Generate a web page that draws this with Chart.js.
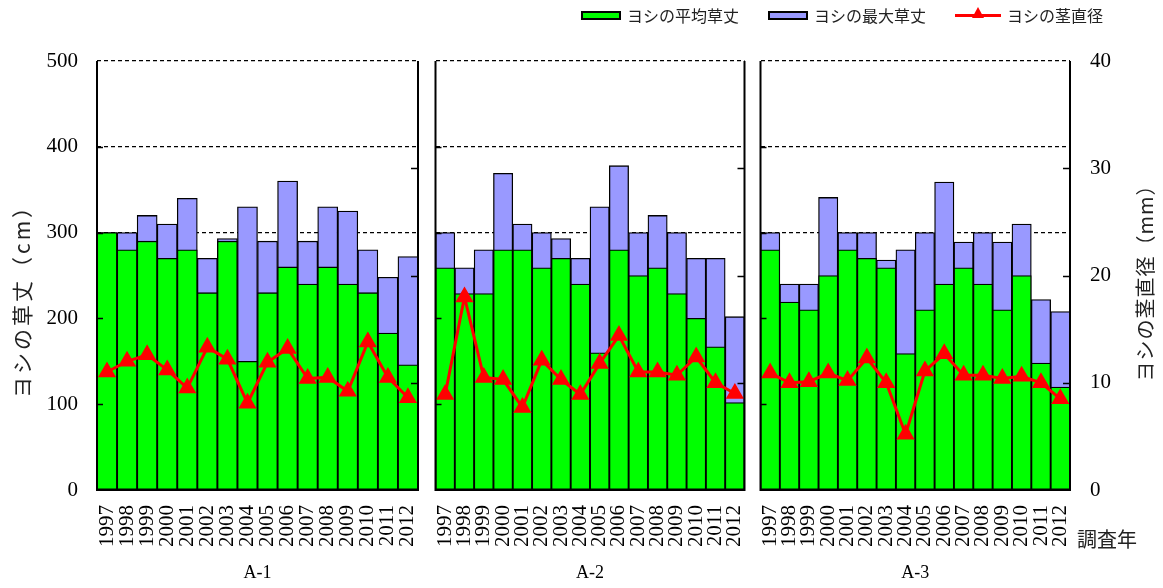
<!DOCTYPE html>
<html>
<head>
<meta charset="utf-8">
<script src="https://cdn.jsdelivr.net/npm/chart.js@4.4.0/dist/chart.umd.min.js"></script>
<style>
  html, body { margin: 0; padding: 0; background: #fff; }
  body { width: 1163px; height: 588px; position: relative; overflow: hidden; }
  canvas { position: absolute; top: 0; }
  .lg { position: absolute; top: 5px; height: 20px; display: flex; align-items: center;
        font-family: "Noto Sans CJK JP", sans-serif; font-size: 16px; color: #222; white-space: nowrap; }
  .sw { display: inline-block; width: 36px; height: 5px; border: 2px solid #000; margin-right: 6px; }
  .ln { position: relative; display: inline-block; width: 46px; height: 3px; background: #ff0000; margin-right: 6px; }
  .ln::after { content: ""; position: absolute; left: 17px; top: -7px; border-left: 6px solid transparent;
               border-right: 6px solid transparent; border-bottom: 11px solid #ff0000; }
</style>
</head>
<body>
<canvas id="c1" style="left:0px" width="430" height="588"></canvas>
<canvas id="c2" style="left:425px" width="330" height="588"></canvas>
<canvas id="c3" style="left:750px" width="413" height="588"></canvas>

<div class="lg" style="left:581px"><span class="sw" style="background:#00ff00"></span>ヨシの平均草丈</div>
<div class="lg" style="left:768px"><span class="sw" style="background:#9999ff"></span>ヨシの最大草丈</div>
<div class="lg" style="left:955px"><span class="ln"></span>ヨシの茎直径</div>

<script>
// Survey years (x categories)
const years = ['1997', '1998', '1999', '2000', '2001', '2002', '2003', '2004',
               '2005', '2006', '2007', '2008', '2009', '2010', '2011', '2012'];

// Tick values of the two value axes
const heightTicks = [0, 100, 200, 300, 400, 500];   // 草丈 (cm)
const stemTicks = [0, 10, 20, 30, 40];              // 茎直径 (mm)

// A-1
const a1Mean = [300, 280, 290, 270, 280, 230, 290, 150, 230, 260, 240, 260, 240, 230, 183, 146];
const a1Max  = [300, 300, 320, 310, 340, 270, 293, 330, 290, 360, 290, 330, 325, 280, 248, 272];
const a1Stem = [11.0, 12.0, 12.6, 11.2, 9.5, 13.3, 12.2, 8.1, 11.9, 13.2, 10.4, 10.5, 9.2, 13.8, 10.5, 8.6];

// A-2
const a2Mean = [259, 229, 229, 280, 280, 259, 270, 240, 160, 280, 250, 259, 229, 200, 167, 102];
const a2Max  = [300, 259, 280, 369, 310, 300, 293, 270, 330, 378, 300, 320, 300, 270, 270, 202];
const a2Stem = [8.9, 18.0, 10.5, 10.3, 7.7, 12.1, 10.3, 8.9, 11.8, 14.4, 11.0, 11.0, 10.7, 12.4, 10.0, 9.0];

// A-3
const a3Mean = [280, 219, 210, 250, 280, 270, 259, 159, 210, 240, 259, 240, 210, 250, 148, 120];
const a3Max  = [300, 240, 240, 341, 300, 300, 268, 280, 300, 359, 289, 300, 289, 310, 222, 208];
const a3Stem = [10.9, 10.0, 10.1, 10.9, 10.2, 12.3, 10.0, 5.2, 11.1, 12.7, 10.7, 10.7, 10.4, 10.6, 10.0, 8.5];

const SERIF = '"Liberation Serif", "Times New Roman", serif';
const GOTHIC = '"Noto Sans CJK JP", sans-serif';

// Solid frame (left, bottom, right) and short inward tick marks on both sides
const framePlugin = {
  id: 'frame',
  afterDatasetsDraw(chart) {
    const { ctx, chartArea: { left, right, top, bottom }, scales } = chart;
    ctx.save();
    ctx.strokeStyle = '#000';
    ctx.lineWidth = 2;
    ctx.beginPath();
    ctx.moveTo(left, top);
    ctx.lineTo(left, bottom);
    ctx.lineTo(right, bottom);
    ctx.lineTo(right, top);
    ctx.stroke();
    ctx.lineWidth = 1.5;
    ctx.beginPath();
    heightTicks.slice(1, -1).forEach(v => {
      const py = Math.round(scales.y.getPixelForValue(v)) + 0.5;
      ctx.moveTo(left, py); ctx.lineTo(left + 6, py);
    });
    stemTicks.slice(1, -1).forEach(v => {
      const py = Math.round(scales.y1.getPixelForValue(v)) + 0.5;
      ctx.moveTo(right - 7, py); ctx.lineTo(right, py);
    });
    ctx.stroke();
    ctx.restore();
  }
};

// Rotated axis titles (read bottom to top) and the 調査年 caption
function verticalText(ctx, text, x, y, size, spacing) {
  ctx.save();
  ctx.translate(x, y);
  ctx.rotate(-Math.PI / 2);
  ctx.font = size + 'px ' + GOTHIC;
  if ('letterSpacing' in ctx) ctx.letterSpacing = spacing + 'px';
  ctx.fillStyle = '#222';
  ctx.textAlign = 'center';
  ctx.textBaseline = 'middle';
  ctx.fillText(text, 0, 0);
  ctx.restore();
}

const leftTitlePlugin = {
  id: 'leftTitle',
  afterDraw(chart) {
    verticalText(chart.ctx, 'ヨシの草丈（cm）', 22, 296, 21, 3);
  }
};

const rightTitlePlugin = {
  id: 'rightTitle',
  afterDraw(chart) {
    const ctx = chart.ctx;
    verticalText(ctx, 'ヨシの茎直径（mm）', 395, 278, 20, 1);
    ctx.save();
    ctx.font = '20px ' + GOTHIC;
    ctx.fillStyle = '#222';
    ctx.textAlign = 'left';
    ctx.textBaseline = 'middle';
    ctx.fillText('調査年', 327, 539);
    ctx.restore();
  }
};

function makePanel(id, name, mean, max, stem, layout) {
  const plugins = [framePlugin];
  if (layout.leftAxis) plugins.push(leftTitlePlugin);
  if (layout.rightAxis) plugins.push(rightTitlePlugin);

  return new Chart(document.getElementById(id), {
    type: 'bar',
    data: {
      labels: years,
      datasets: [
        {
          type: 'line', label: 'ヨシの茎直径', data: stem, yAxisID: 'y1', order: 0,
          borderColor: '#ff0000', backgroundColor: '#ff0000', borderWidth: 3, tension: 0,
          pointStyle: 'triangle', pointRadius: 9, pointBorderWidth: 1.5,
          pointBackgroundColor: '#ff0000', pointBorderColor: '#ff0000'
        },
        {
          label: 'ヨシの平均草丈', data: mean, yAxisID: 'y', order: 1, grouped: false,
          backgroundColor: '#00ff00', borderColor: '#000', borderWidth: 1.3, borderSkipped: false,
          barPercentage: 1, categoryPercentage: 1
        },
        {
          label: 'ヨシの最大草丈', data: max, yAxisID: 'y', order: 2, grouped: false,
          backgroundColor: '#9999ff', borderColor: '#000', borderWidth: 1.3, borderSkipped: false,
          barPercentage: 1, categoryPercentage: 1
        }
      ]
    },
    options: {
      responsive: false,
      animation: false,
      events: [],
      layout: { padding: { left: layout.padLeft, right: layout.padRight, top: 61, bottom: 0 } },
      plugins: { legend: { display: false }, tooltip: { enabled: false } },
      scales: {
        x: {
          grid: { display: false },
          border: { display: false },
          ticks: {
            autoSkip: false, minRotation: 90, maxRotation: 90, padding: 7,
            color: '#000', font: { family: SERIF, size: 21 }
          },
          title: {
            display: true, text: name, color: '#000',
            font: { family: SERIF, size: 18 }, padding: { top: 0, bottom: 4 }
          },
          afterFit(s) { s.height = 98; s.paddingLeft = 0; s.paddingRight = 0; }
        },
        y: {
          position: 'left',
          min: heightTicks[0], max: heightTicks[heightTicks.length - 1],
          afterBuildTicks(s) { s.ticks = heightTicks.map(v => ({ value: v })); },
          grid: {
            drawTicks: false, lineWidth: 1.2,
            color: c => (c.tick && c.tick.value >= 300) ? '#000' : 'rgba(0,0,0,0)'
          },
          border: { display: false, dash: [4, 3] },
          ticks: {
            display: layout.leftAxis, padding: 19, color: '#000',
            font: { family: SERIF, size: 21 }
          },
          afterFit(s) { s.width = layout.leftAxis ? 97 : 0; s.paddingTop = 0; s.paddingBottom = 0; }
        },
        y1: {
          position: 'right',
          display: layout.rightAxis,
          min: stemTicks[0], max: stemTicks[stemTicks.length - 1],
          afterBuildTicks(s) { s.ticks = stemTicks.map(v => ({ value: v })); },
          grid: { drawOnChartArea: false, drawTicks: false },
          border: { display: false },
          ticks: { padding: 20, color: '#000', font: { family: SERIF, size: 21 } },
          afterFit(s) { s.width = layout.rightAxis ? 93 : 0; s.paddingTop = 0; s.paddingBottom = 0; }
        }
      }
    },
    plugins
  });
}

makePanel('c1', 'A-1', a1Mean, a1Max, a1Stem, { leftAxis: true, rightAxis: false, padLeft: 0, padRight: 12 });
makePanel('c2', 'A-2', a2Mean, a2Max, a2Stem, { leftAxis: false, rightAxis: false, padLeft: 9, padRight: 9 });
makePanel('c3', 'A-3', a3Mean, a3Max, a3Stem, { leftAxis: false, rightAxis: true, padLeft: 10, padRight: 0 });
</script>
</body>
</html>
